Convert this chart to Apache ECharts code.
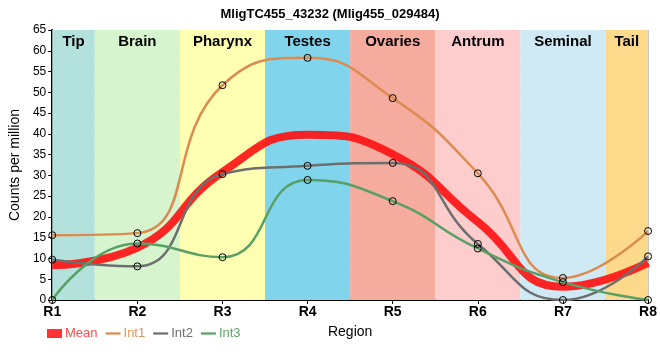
<!DOCTYPE html>
<html><head><meta charset="utf-8">
<script src="https://cdn.jsdelivr.net/npm/echarts@6/dist/echarts.min.js"></script>
<style>html,body{margin:0;padding:0;background:#fff}#c{width:660px;height:360px}</style>
</head><body><div id="c"></div>
<script>
const categories = ['R1','R2','R3','R4','R5','R6','R7','R8'];
const int1 = [15.6, 16.1, 51.7, 58.3, 48.6, 30.5, 5.3, 16.6];
const int2 = [9.7, 8.1, 30.3, 32.3, 33.0, 13.5, 0.0, 10.5];
const int3 = [0.0, 13.6, 10.3, 28.9, 23.8, 12.4, 4.3, 0.0];
const meanVals = [8.4, 12.6, 30.8, 39.8, 35.1, 18.8, 3.2, 9.0];
const regions = ['Tip','Brain','Pharynx','Testes','Ovaries','Antrum','Seminal','Tail'];
const regionColors = ['#b3e1dc','#d6f5cf','#ffffb3','#80d5ec','#f5ab9e','#fdcccc','#cfeaf5','#fdd98b'];
const yTicks = [0,5,10,15,20,25,30,35,40,45,50,55,60,65];

const FONT = '"Liberation Sans Narrow","Liberation Sans",Arial,sans-serif';
const chart = echarts.init(document.getElementById('c'));
const toPts = arr => arr.map((v,i)=>[i+1, v]);
const bands = regions.map((r,i)=>[
  {name:r, xAxis: Math.max(1, i+0.5), itemStyle:{color:regionColors[i]}},
  {xAxis: Math.min(8, i+1.5)}
]);
const ptStyle = {symbol:'circle', symbolSize:7, itemStyle:{color:'rgba(255,255,255,0)', borderColor:'#000', borderWidth:1}};
const lineIcon = 'path://M0,0h20v3h-20z';
chart.setOption({
  animation:false,
  textStyle:{fontFamily:FONT},
  title:{text:'MligTC455_43232 (Mlig455_029484)', left:'center', top:3,
    textStyle:{fontFamily:FONT, fontSize:13, fontWeight:'bold', color:'#000'}},
  grid:{left:50, right:9, top:30, bottom:60},
  legend:{left:42, top:322, itemGap:8, itemWidth:15, itemHeight:9,
    textStyle:{fontFamily:FONT, fontSize:13, padding:[0,0,0,-2]},
    data:[
      {name:'Mean', icon:'rect', itemStyle:{color:'#ff3333', borderWidth:0}, textStyle:{color:'#ff4d4d'}},
      {name:'Int1', icon:lineIcon, itemStyle:{color:'#dc8c50', borderWidth:0}, textStyle:{color:'#e0965a'}},
      {name:'Int2', icon:lineIcon, itemStyle:{color:'#6e6e6e', borderWidth:0}, textStyle:{color:'#707070'}},
      {name:'Int3', icon:lineIcon, itemStyle:{color:'#58a065', borderWidth:0}, textStyle:{color:'#5fa56a'}}
    ]},
  xAxis:{type:'value', min:1, max:8, interval:1, name:'Region', nameLocation:'middle', nameGap:25,
    nameTextStyle:{fontFamily:FONT, fontSize:14, color:'#000'},
    axisLine:{lineStyle:{color:'#000', width:2}}, axisTick:{show:true, length:4, lineStyle:{color:'#000'}},
    axisLabel:{formatter:v=>categories[v-1]||'', fontFamily:FONT, fontSize:14, fontWeight:'bold', color:'#000', margin:5},
    splitLine:{show:true, lineStyle:{color:'#c8c8c8', width:1}}},
  yAxis:{type:'value', min:0, max:65, interval:5, name:'Counts per million', nameLocation:'middle', nameGap:30,
    nameTextStyle:{fontFamily:FONT, fontSize:14, color:'#000'},
    axisLine:{show:true, lineStyle:{color:'#000', width:2}}, axisTick:{show:true, length:4, lineStyle:{color:'#000'}},
    axisLabel:{formatter:v=>yTicks.includes(v)?String(v):'', fontFamily:FONT, fontSize:12, color:'#000', margin:6},
    splitLine:{show:true, lineStyle:{color:'#c8c8c8', width:1}}},
  series:[
    {name:'bands', type:'line', data:[], silent:true,
      markArea:{silent:true, data:bands,
        label:{show:true, position:'insideTop', distance:4, fontFamily:FONT, fontSize:15, fontWeight:'bold', color:'#000'}}},
    {name:'Int1', type:'line', smooth:0.5, data:toPts(int1), color:'#dc8c50', z:5,
      lineStyle:{width:2.5, color:'#dc8c50'}, ...ptStyle},
    {name:'Int2', type:'line', smooth:0.5, data:toPts(int2), color:'#6e6e6e', z:5,
      lineStyle:{width:2.5, color:'#6e6e6e'}, ...ptStyle},
    {name:'Int3', type:'line', smooth:0.5, data:toPts(int3), color:'#58a065', z:5,
      lineStyle:{width:2.5, color:'#58a065'}, ...ptStyle},
    {name:'Mean', type:'line', smooth:0.5, data:toPts(meanVals), color:'#ff2020', z:4, showSymbol:false, symbol:'none',
      lineStyle:{width:8, color:'rgba(255,15,15,0.9)'}}
  ]
});
</script></body></html>
